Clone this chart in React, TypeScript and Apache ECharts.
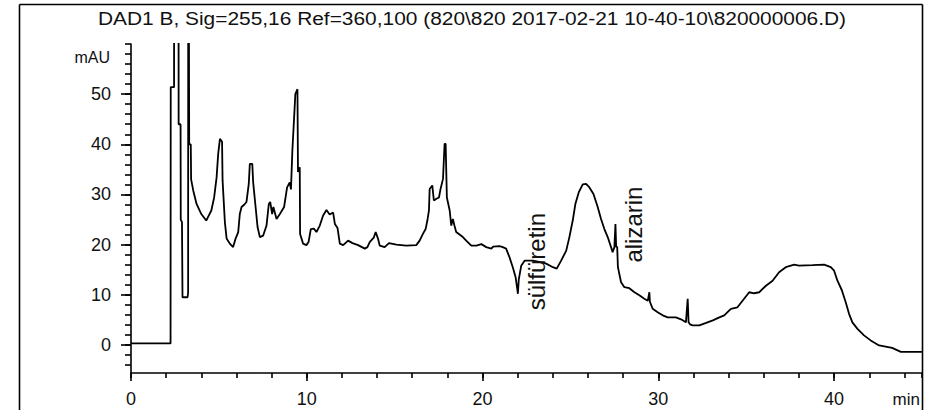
import React, { useEffect, useRef } from "react";
import * as echarts from "echarts";

// Retention time (min) and detector signal (mAU)
const retentionTime: number[] = [
  0, 2.25, 2.26, 2.45, 2.46, 2.7, 2.71, 2.82, 2.83, 2.9, 2.93, 3.22, 3.25, 3.26, 3.3, 3.31, 3.4, 3.42, 3.54, 3.73,
  4.0, 4.28, 4.57, 4.73, 4.87, 4.96, 5.06, 5.18, 5.21, 5.34, 5.44, 5.62, 5.81, 5.95, 6.1, 6.19, 6.29, 6.45, 6.57, 6.7,
  6.76, 6.9, 6.95, 7.08, 7.2, 7.33, 7.52, 7.71, 7.84, 7.92, 8.03, 8.1, 8.28, 8.47, 8.71, 8.88, 9.03, 9.1, 9.18, 9.35,
  9.47, 9.5, 9.6, 9.62, 9.79, 9.98, 10.1, 10.23, 10.4, 10.55, 10.74, 10.93, 11.12, 11.3, 11.5, 11.6, 11.75, 11.88, 12.07, 12.35,
  12.6, 12.92, 13.3, 13.45, 13.58, 13.81, 13.92, 14.05, 14.15, 14.43, 14.68, 15.1, 15.66, 16.23, 16.42, 16.6, 16.76, 16.86, 16.95, 16.99,
  17.14, 17.23, 17.4, 17.52, 17.61, 17.75, 17.84, 17.9, 17.97, 18.13, 18.22, 18.31, 18.4, 18.5, 18.69, 18.88, 19.07, 19.36, 19.65, 19.93,
  20.21, 20.5, 20.6, 20.97, 21.15, 21.34, 21.53, 21.72, 21.88, 21.98, 22.01, 22.06, 22.2, 22.39, 22.86, 23.3, 23.62, 24.0, 24.22, 24.47,
  24.76, 24.94, 25.13, 25.28, 25.47, 25.7, 25.89, 26.08, 26.31, 26.55, 26.74, 26.93, 27.12, 27.31, 27.4, 27.5, 27.56, 27.6, 27.66, 27.7,
  27.88, 28.07, 28.35, 28.64, 28.92, 29.2, 29.4, 29.49, 29.52, 29.68, 29.96, 30.25, 30.53, 31.0, 31.29, 31.57, 31.67, 31.72, 31.8, 31.95,
  32.33, 32.72, 33.1, 33.47, 33.75, 34.04, 34.13, 34.5, 34.88, 35.17, 35.45, 35.74, 36.12, 36.5, 36.87, 37.25, 37.73, 38.0, 38.77, 39.43,
  39.81, 40.0, 40.19, 40.44, 40.66, 40.85, 41.04, 41.33, 41.7, 42.08, 42.56, 43.3, 43.8, 45,
];

const absorbance: number[] = [
  0.3, 0.3, 51.4, 51.4, 120, 120, 44, 44, 25, 24.5, 9.5, 9.5, 10.5, 120, 120, 40, 40, 33, 30.8, 28.1,
  26.1, 24.8, 26.8, 29.4, 33.4, 38.1, 41.1, 40.5, 32.8, 24.5, 21.2, 20.2, 19.5, 21.2, 22.5, 26.1, 27.5, 28, 28.5, 32.1,
  36.1, 36.1, 32.4, 27.8, 23.5, 21.5, 21.8, 23.8, 28.1, 28.5, 26.1, 27.5, 25.1, 26.1, 27.5, 31.4, 32.4, 31, 38.7, 50,
  51, 34.5, 35.4, 22.1, 20.2, 19.9, 20.5, 23.1, 23.2, 22.5, 23.8, 25.8, 26.9, 26.0, 26.4, 24.1, 23.3, 20.2, 19.9, 20.8,
  20.3, 19.9, 19.2, 19.5, 20.5, 21.4, 22.5, 21.2, 19.8, 19.5, 20.3, 20.0, 19.8, 19.9, 20.8, 22.1, 23.1, 24.8, 26.8, 31.1,
  31.8, 28.8, 29.2, 29.4, 31.1, 33.1, 40.1, 40.1, 29.4, 26.8, 23.8, 25.1, 23.8, 22.5, 22, 21.5, 20.8, 19.8, 19.8, 20.1,
  19.5, 19.2, 19.6, 19.7, 19.5, 19.2, 17.5, 15.5, 13.5, 11, 10.2, 13, 15.8, 16.8, 16.8, 16.5, 16.2, 15.5, 15.2, 16.8,
  18.8, 21.5, 24.8, 28.1, 30.4, 32.0, 32.1, 31.4, 30.1, 27.5, 25.1, 23.1, 21.5, 19.5, 18.5, 19.5, 24.1, 19.6, 19.5, 15.5,
  12.5, 11.5, 11.3, 10.5, 9.9, 9.2, 8.8, 10.5, 8.6, 7.2, 6.5, 5.9, 5.5, 5.5, 5.1, 4.5, 9.2, 4.5, 4.1, 3.9,
  3.9, 4.4, 4.9, 5.5, 5.9, 6.9, 7.2, 7.5, 9.2, 10.5, 10.3, 10.5, 11.8, 12.8, 14.5, 15.5, 16.0, 15.8, 15.9, 16.0,
  15.5, 14.8, 12.8, 10.9, 8.5, 6.2, 4.5, 3.2, 1.9, 0.9, -0.1, -0.6, -1.4, -1.4,
];

const chartTitle = "DAD1 B, Sig=255,16 Ref=360,100 (820\\820 2017-02-21 10-40-10\\820000006.D)";
const yUnit = "mAU";
const xUnit = "min";
const xRange = [0, 45];
const yRange = [-5.6, 60];
const yMinorRange = [-4, 60];
const minorStep = 2;

// Peak annotations: name, retention time and signal level of the label's centre
const peakNames = ["sülfüretin", "alizarin"];
const peakTimes = [23.08, 28.57];
const peakLevels = [16.6, 24.0];

const FONT = "'Liberation Sans', Arial, sans-serif";
const INK = "#111111";

const GRID_TOP = 44;
const GRID_BOTTOM = 37;
const GRID_LEFT = 131;
const GRID_RIGHT = 10;
const PLOT_H = 410 - GRID_TOP - GRID_BOTTOM;

export default function App() {
  const ref = useRef<HTMLDivElement>(null);

  useEffect(() => {
    if (!ref.current) return;
    const chart = echarts.init(ref.current, null, { renderer: "svg" });
    const series = retentionTime.map((t, i) => [t, absorbance[i]]);

    // second grid shares the pixel scale of the main one, but starts at a multiple of the minor step
    const pxPerUnit = PLOT_H / (yRange[1] - yRange[0]);
    const minorGridBottom = GRID_BOTTOM + (yMinorRange[0] - yRange[0]) * pxPerUnit;

    const tickLine = { color: "#000", width: 1.6 };

    chart.setOption({
      animation: false,
      backgroundColor: "#ffffff",
      grid: [
        { left: GRID_LEFT, right: GRID_RIGHT, top: GRID_TOP, bottom: GRID_BOTTOM, outerBoundsMode: "none" },
        { left: GRID_LEFT, right: GRID_RIGHT, top: GRID_TOP, bottom: minorGridBottom, outerBoundsMode: "none" },
      ],
      xAxis: [
        {
          type: "value",
          gridIndex: 0,
          position: "bottom",
          min: xRange[0],
          max: xRange[1],
          interval: 10,
          axisLine: { show: true, onZero: false, lineStyle: tickLine },
          axisTick: { show: true, length: 8, lineStyle: tickLine },
          splitLine: { show: false },
          axisLabel: { showMaxLabel: false, fontSize: 18, color: INK, margin: 17, fontFamily: FONT },
        },
        {
          type: "value",
          gridIndex: 0,
          position: "bottom",
          min: xRange[0],
          max: xRange[1],
          interval: minorStep,
          axisLine: { show: false, onZero: false },
          axisTick: { show: true, length: 5, lineStyle: tickLine },
          splitLine: { show: false },
          axisLabel: { show: false },
        },
        { type: "value", gridIndex: 1, show: false, min: xRange[0], max: xRange[1] },
      ],
      yAxis: [
        {
          type: "value",
          gridIndex: 0,
          min: yRange[0],
          max: yRange[1],
          axisLine: { show: true, lineStyle: tickLine },
          axisTick: { show: true, length: 10, lineStyle: tickLine },
          splitLine: { show: false },
          axisLabel: {
            showMinLabel: false,
            showMaxLabel: false,
            fontSize: 18,
            color: INK,
            margin: 20,
            fontFamily: FONT,
          },
        },
        {
          type: "value",
          gridIndex: 1,
          position: "left",
          min: yMinorRange[0],
          max: yMinorRange[1],
          interval: minorStep,
          axisLine: { show: false, onZero: false },
          axisTick: { show: true, length: 6, lineStyle: tickLine },
          splitLine: { show: false },
          axisLabel: { show: false },
        },
      ],
      series: [
        {
          type: "line",
          xAxisIndex: 0,
          yAxisIndex: 0,
          data: series,
          showSymbol: false,
          symbol: "none",
          clip: true,
          lineStyle: { color: "#000", width: 1.8 },
        },
      ],
    });

    const annotations = peakNames.map((name, i) => {
      const p = chart.convertToPixel({ xAxisIndex: 0, yAxisIndex: 0 }, [peakTimes[i], peakLevels[i]]) as number[];
      return {
        type: "text",
        x: p[0],
        y: p[1],
        rotation: Math.PI / 2,
        z: 10,
        style: {
          text: name,
          fontSize: 24,
          fontFamily: FONT,
          fill: INK,
          align: "center",
          verticalAlign: "middle",
        },
      };
    });

    chart.setOption({
      graphic: [
        { type: "line", shape: { x1: 19.5, y1: 4.5, x2: 922.5, y2: 4.5 }, style: { stroke: "#000", lineWidth: 1.6 } },
        { type: "line", shape: { x1: 19.5, y1: 4.5, x2: 19.5, y2: 410 }, style: { stroke: "#000", lineWidth: 1.6 } },
        { type: "line", shape: { x1: 922.5, y1: 4.5, x2: 922.5, y2: 410 }, style: { stroke: "#000", lineWidth: 1.6 } },
        {
          type: "text",
          x: 472,
          y: 18,
          scaleX: 1.1,
          style: { text: chartTitle, fontSize: 19, fontFamily: FONT, fill: INK, align: "center", verticalAlign: "middle" },
        },
        {
          type: "text",
          x: 110,
          y: 57,
          style: { text: yUnit, fontSize: 16, fontFamily: FONT, fill: INK, align: "right", verticalAlign: "middle" },
        },
        {
          type: "text",
          x: 920,
          y: 399,
          style: { text: xUnit, fontSize: 17, fontFamily: FONT, fill: INK, align: "right", verticalAlign: "middle" },
        },
        ...annotations,
      ],
    });

    return () => chart.dispose();
  }, []);

  return (
    <div
      ref={ref}
      style={{ position: "fixed", left: 0, top: 0, width: 932, height: 410, background: "#fff" }}
    />
  );
}
